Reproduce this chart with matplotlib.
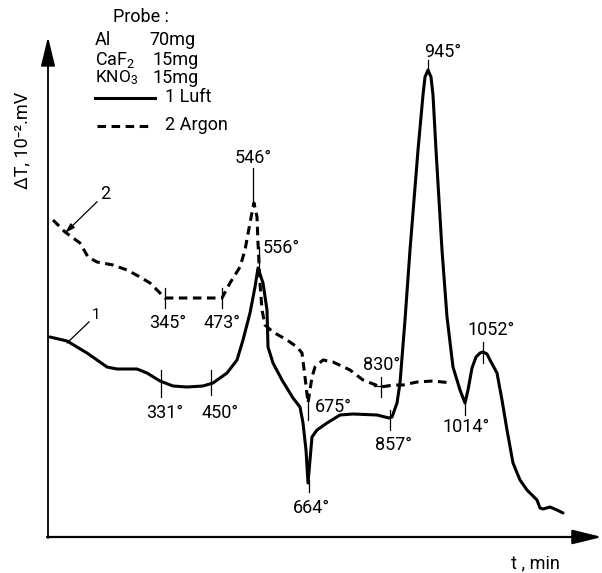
import numpy as np
import matplotlib
matplotlib.use("Agg")
import matplotlib.pyplot as plt

# curve 1 (Luft): time (arb.) and dT (arb.)
t_luft = [2, 19, 39, 59, 69, 89, 99, 112, 125, 139, 155, 165, 179, 189, 195, 202, 207, 210,
          215, 219, 220, 225, 234, 245, 252, 255, 258, 260, 262, 264, 269, 279, 292, 305,
          329, 341, 344, 349, 352, 357, 362, 370, 375, 377, 380, 383, 385, 388, 394, 399,
          405, 412, 417, 420, 424, 428, 432, 435, 439, 442, 449, 454, 459, 465, 472, 479, 489, 492,
          495, 502, 509, 515]
dT_luft = [200, 196, 184, 170, 168, 168, 164, 156, 151, 150, 151, 154, 164, 177, 197, 224, 250, 269,
           254, 227, 190, 174, 157, 139, 130, 114, 87, 54, 77, 100, 107, 114, 122, 123,
           122, 119, 120, 134, 154, 217, 287, 387, 442, 460, 467, 460, 442, 387, 287, 220,
           170, 147, 134, 147, 169, 180, 184, 185, 183, 177, 164, 137, 107, 74, 57, 47, 37, 29,
           28, 30, 27, 24]

# curve 2 (Argon)
t_argon = [5, 17, 32, 40, 49, 65, 79, 92, 102, 112, 117, 139, 174, 182, 192, 197, 202, 205,
           206, 209, 210, 212, 214, 217, 225, 239, 249, 254, 257, 260, 264, 267, 275, 285,
           302, 315, 333, 345, 355, 369, 385, 404]
dT_argon = [317, 305, 294, 280, 275, 272, 267, 260, 254, 244, 239, 239, 239, 254, 270, 287, 314, 330,
            334, 320, 294, 254, 227, 212, 205, 197, 190, 184, 160, 134, 160, 170, 177, 175,
            167, 157, 150, 152, 152, 155, 156, 154]

# temperature marks
temp_labels = ["546°", "556°", "345°", "473°", "331°", "450°", "675°", "664°",
               "830°", "857°", "1014°", "1052°", "945°"]
tick_t = [205, 211, 117, 174, 113, 163, 260, 261, 333, 342, 417, 435, 380]
tick_lo = [334, 269, 229, 229, 140, 142, 117, 45, 140, 107, 122, 174, 465]
tick_hi = [369, 290, 249, 249, 167, 167, 140, 57, 160, 127, 140, 195, 477]
lab_t = [205, 215, 120, 174, 117, 172, 267, 263, 334, 346, 418, 443, 395]
lab_y = [379, 289, 214, 214, 124, 124, 130, 29, 172, 92, 110, 207, 485]
lab_ha = ["center", "left", "center", "center", "center", "center", "left", "center",
          "center", "center", "center", "center", "center"]

plt.rcParams['font.family'] = ['Roboto', 'DejaVu Sans']
plt.rcParams['mathtext.fontset'] = 'custom'
plt.rcParams['mathtext.rm'] = 'Roboto'
plt.rcParams['mathtext.it'] = 'Roboto'
fs = 13
dash = (0, (2.8, 1.8))

fig = plt.figure(figsize=(6.02, 5.73), dpi=100)
ax = fig.add_axes([0, 0, 1, 1])
ax.set_xlim(-48, 554)
ax.set_ylim(-36, 537)
ax.axis('off')

# axes with arrows
ax.annotate('', xy=(0, 500), xytext=(0, -1),
            arrowprops=dict(arrowstyle='-|>,head_length=0.9,head_width=0.22',
                            mutation_scale=20, lw=1.3, color='black', shrinkA=0, shrinkB=0))
ax.annotate('', xy=(554, 0), xytext=(-1, 0),
            arrowprops=dict(arrowstyle='-|>,head_length=0.9,head_width=0.22',
                            mutation_scale=20, lw=1.6, color='black', shrinkA=0, shrinkB=0))

ax.plot(t_luft, dT_luft, color='black', lw=2.2, solid_joinstyle='round', solid_capstyle='round')
ax.plot(t_argon, dT_argon, color='black', lw=2.2, linestyle=dash, dash_capstyle='butt')

for i in range(len(temp_labels)):
    ax.plot([tick_t[i], tick_t[i]], [tick_lo[i], tick_hi[i]], color='black', lw=0.9)
    ax.text(lab_t[i], lab_y[i], temp_labels[i], ha=lab_ha[i], va='center', fontsize=fs)

# 830 cross
ax.plot([326, 340], [151, 151], color='black', lw=0.9)

# curve numbers
ax.annotate('1', xy=(19, 194), xytext=(44, 215), fontsize=fs - 2, ha='left', va='bottom',
            arrowprops=dict(arrowstyle='-', lw=0.9, color='black', shrinkA=0, shrinkB=0))
ax.annotate('2', xy=(17, 304), xytext=(52, 334), fontsize=fs, ha='left', va='bottom',
            arrowprops=dict(arrowstyle='-|>,head_length=0.5,head_width=0.15', mutation_scale=12,
                            lw=0.9, color='black', shrinkA=0, shrinkB=0))

# sample description
ax.text(93, 520, 'Probe :', ha='center', va='center', fontsize=fs)
ax.text(47, 497, 'Al', ha='left', va='center', fontsize=fs)
ax.text(101, 497, '70mg', ha='left', va='center', fontsize=fs)
ax.text(47, 477, r'CaF$_2$', ha='left', va='center', fontsize=fs)
ax.text(105, 477, '15mg', ha='left', va='center', fontsize=fs)
ax.text(47, 459, r'KNO$_3$', ha='left', va='center', fontsize=fs - 0.5)
ax.text(105, 459, '15mg', ha='left', va='center', fontsize=fs)
ax.plot([47, 107], [439, 439], color='black', lw=2.2)
ax.text(117, 440, '1 Luft', ha='left', va='center', fontsize=fs)
ax.plot([49, 105], [411, 411], color='black', lw=2.2, linestyle=dash)
ax.text(117, 412, '2 Argon', ha='left', va='center', fontsize=fs)

ax.text(-26, 397, 'ΔT, 10⁻².mV', rotation=90, ha='center', va='center', fontsize=fs)
ax.text(487, -26, 't , min', ha='center', va='center', fontsize=fs)

fig.savefig('out.png', dpi=100)
